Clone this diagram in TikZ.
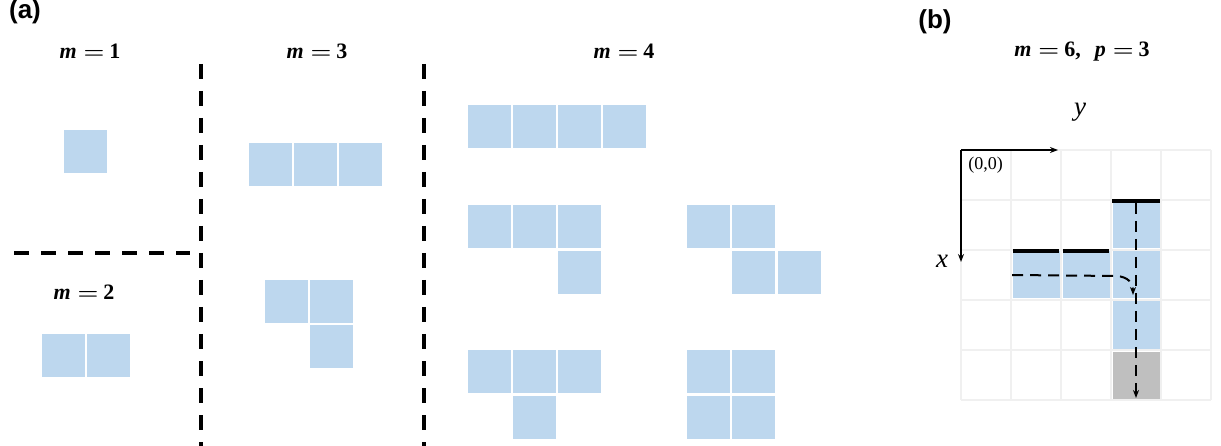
\documentclass[tikz,border=0pt]{standalone}
\usepackage{fontspec}
\setmainfont{Liberation Serif}
\newfontfamily\headfont{Liberation Sans}
\usepackage{tikz}
\usetikzlibrary{arrows.meta, positioning}

\definecolor{cellblue}{HTML}{BDD7EE}
\definecolor{cellgray}{HTML}{BFBFBF}
\definecolor{gridgray}{HTML}{F0F0F0}

\tikzset{
  cell/.style={fill=cellblue, draw=none},
  divider/.style={line width=3.6pt, dash pattern=on 15pt off 12pt},
  mlabel/.style={font=\fontsize{22}{26}\selectfont\bfseries},
  panel/.style={font=\fontsize{26}{30}\selectfont\headfont\bfseries},
  walk/.style={line width=2pt, dash pattern=on 11pt off 7pt},
}
% one light-blue square, top-left corner given
\newcommand{\polycell}[2]{\fill[cell] (#1,#2) rectangle ++(43,43);}
% "m = n" with a wide equals sign
\newcommand{\meq}[2]{{\itshape #1}\hspace{7pt}\scalebox{1.15}[1]{\boldmath$=$}\hspace{5pt}#2}

\begin{document}
\begin{tikzpicture}[x=1pt, y=-1pt]
  \useasboundingbox (0,0) rectangle (1221,446);
  % panel titles
  \node[panel] (tagA) at (25,12) {(a)};
  \node[panel] (tagB) at (935,22) {(b)};
  % dividers
  \draw[divider] (201,64) -- (201,446);
  \draw[divider] (424,64) -- (424,446);
  \draw[divider] (14,253) -- (190,253);
  % size labels
  \node[mlabel] (m1) at (90,51) {\meq{m}{1}};
  \node[mlabel] (m2) at (84,292) {\meq{m}{2}};
  \node[mlabel] (m3) at (317,51) {\meq{m}{3}};
  \node[mlabel] (m4) at (624,51) {\meq{m}{4}};
  \node[mlabel] (m6) at (1082,52) {\meq{m}{6},\hspace{14pt}\meq{p}{3}};
  % m = 1, 2, 3
  \polycell{64}{130}
  \foreach \cx in {42,87} {\polycell{\cx}{334}}
  \foreach \cx in {249,294,339} {\polycell{\cx}{143}}
  \foreach \cx/\cy in {265/280, 310/280, 310/325} {\polycell{\cx}{\cy}}
  % m = 4
  \foreach \cx in {468,513,558,603} {\polycell{\cx}{105}}
  \foreach \cx/\cy in {468/205, 513/205, 558/205, 558/251} {\polycell{\cx}{\cy}}
  \foreach \cx/\cy in {687/205, 732/205, 732/251, 778/251} {\polycell{\cx}{\cy}}
  \foreach \cx/\cy in {468/350, 513/350, 558/350, 513/396} {\polycell{\cx}{\cy}}
  \foreach \cx/\cy in {687/350, 732/350, 687/396, 732/396} {\polycell{\cx}{\cy}}
  % (b) grid
  \foreach \g in {0,50,...,250} {
    \draw[gridgray, line width=2.5pt] (961+\g,150) -- (961+\g,400);
    \draw[gridgray, line width=2.5pt] (961,150+\g) -- (1211,150+\g);
  }
  \foreach \cx/\cy in {1111/200, 1011/250, 1061/250, 1111/250, 1111/300}
    {\fill[cell] (\cx+1.5,\cy+1.5) rectangle ++(47,47);}
  \fill[cellgray] (1112.5,351.5) rectangle ++(47,47);
  % occupied top edges
  \draw[line width=4.5pt] (1112,201) -- (1160,201);
  \draw[line width=4.5pt] (1013,251) -- (1059,251);
  \draw[line width=4.5pt] (1063,251) -- (1109,251);
  % axes
  \coordinate (origin) at (961,150);
  \coordinate (yend) at (1058,150);
  \coordinate (xend) at (961,262);
  \draw[line width=1.4pt, -{Stealth[length=8pt, width=6pt]}] (origin) -- (yend);
  \draw[line width=1.4pt, -{Stealth[length=8pt, width=6pt]}] (origin) -- (xend);
  \node[font=\fontsize{27}{30}\selectfont\itshape] (ylab) at (1080,112) {y};
  \node[font=\fontsize{27}{30}\selectfont\itshape] (xlab) at (942,261) {x};
  \node[font=\fontsize{18}{20}\selectfont] (orig) at (985.5,165) {(0,0)};
  % walking paths
  \coordinate (hstart) at (1012,275);
  \coordinate (hbend) at (1117,276);
  \coordinate (hend) at (1133,295);
  \coordinate (vstart) at (1136,203);
  \coordinate (vend) at (1136,398);
  \draw[walk, -{Stealth[length=8pt, width=6pt]}] (hstart) -- (hbend)
    .. controls (1128,277) and (1133,283) .. (hend);
  \draw[walk, -{Stealth[length=8pt, width=6pt]}] (vstart) -- (vend);
\end{tikzpicture}
\end{document}
